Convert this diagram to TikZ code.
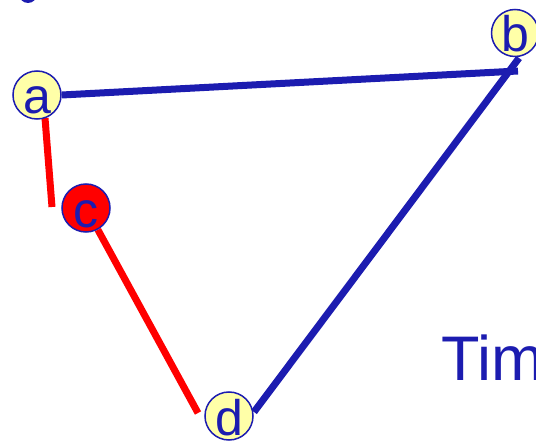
\documentclass[tikz,border=0pt]{standalone}
\usepackage{fontspec}
\setmainfont{Liberation Sans}
\usetikzlibrary{positioning,backgrounds}
\definecolor{graphBlue}{HTML}{1C1CB0}
\definecolor{vertexYellow}{HTML}{FFFFA8}
\definecolor{pathRed}{HTML}{FF0000}

\tikzset{
	vertex/.style={circle,draw=graphBlue,line width=1.5pt,fill=vertexYellow,
		minimum size=48pt,inner sep=0pt,text height=38pt,text depth=0pt,
		text=graphBlue,font=\fontsize{50}{50}\selectfont},
	blueEdge/.style={graphBlue,line width=7pt},
	redEdge/.style={pathRed,line width=7pt}
}

\begin{document}
\begin{tikzpicture}[x=1pt,y=-1pt]
			\useasboundingbox(0,0)rectangle(536,441);
			\clip(0,0)rectangle(536,441);
			% vertices
			\node[vertex](a)at(37,95){a};
			\node[vertex,minimum size=42pt](b)at(515,33){b};
			\node[vertex,fill=pathRed](c)at(86,208){c};
			\node[vertex](d)at(229,416){d};
			\fill[graphBlue](28,-6)circle(9);
			\node[anchor=base west,text=graphBlue,font=\fontsize{63}{63}\selectfont,inner sep=0pt](tim)at(441,380){Tim};
			% edge ends
			\coordinate(abEnd)at(518,71);
			\coordinate(bFoot)at(519,58);
			\coordinate(dRight)at(254,412);
			\coordinate(aLow)at(45,118);
			\coordinate(cLeft)at(52,207);
			\coordinate(dLeft)at(198,413);
			\begin{scope}[on background layer]
				\draw[blueEdge](a.east)--(abEnd);
				\draw[blueEdge](dRight)--(bFoot);
				\draw[redEdge](aLow)--(cLeft);
				\draw[redEdge](c)--(dLeft);
			\end{scope}
		\end{tikzpicture}
\end{document}
